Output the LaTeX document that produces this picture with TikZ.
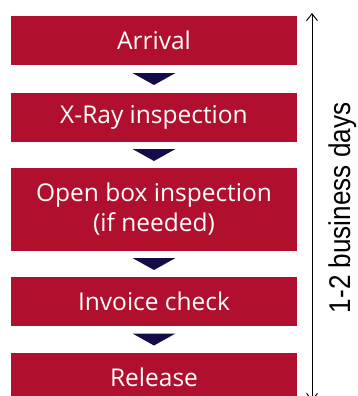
\documentclass[tikz,border=0pt]{standalone}
\usepackage{fontspec}
\setmainfont{Open Sans}
\newfontfamily\daysfont{Liberation Sans}
\usetikzlibrary{arrows.meta, calc}
\definecolor{stepred}{RGB}{176, 16, 46}
\definecolor{arrownavy}{RGB}{22, 10, 72}

\tikzset{
  stepbox/.style={fill=stepred, text=white, inner sep=0pt, minimum width=286pt,
    minimum height=49pt, align=center, font=\fontsize{24.5}{30}\selectfont},
  steptri/.style={fill=arrownavy}
}

\begin{document}
\begin{tikzpicture}[x=1pt, y=-1pt]
  \useasboundingbox (0,0) rectangle (357,396);

  % Process steps
  \node[stepbox] (arrival) at (154, 40.5) {Arrival};
  \node[stepbox] (xray) at (154, 117.5) {X-Ray inspection};
  \node[stepbox, minimum height=83pt] (openbox) at (154, 209.5) {Open box inspection\\(if needed)};
  \node[stepbox] (invoice) at (154, 301.5) {Invoice check};
  \node[stepbox] (release) at (154, 377.5) {Release};

  % Triangles between the steps
  \foreach \a/\b in {arrival/xray, xray/openbox, openbox/invoice, invoice/release}
    \fill[steptri] ($(\a.south)!0.5!(\b.north)$) ++(-21.5,-6) -- ++(43,0) -- ++(-21.5,12) -- cycle;

  % Duration
  \coordinate (daystop) at (312, 13);
  \coordinate (daysbottom) at (312, 401);
  \draw[line width=0.9pt, {Straight Barb[length=7pt, width=11pt]}-{Straight Barb[length=7pt, width=11pt]}]
    (daystop) -- (daysbottom);
  \node[rotate=90, anchor=base, inner sep=0pt, font=\daysfont\fontsize{30}{36}\selectfont] (days)
    at (350, 208) {\scalebox{0.87}[1]{1-2 business days}};
\end{tikzpicture}
\end{document}
